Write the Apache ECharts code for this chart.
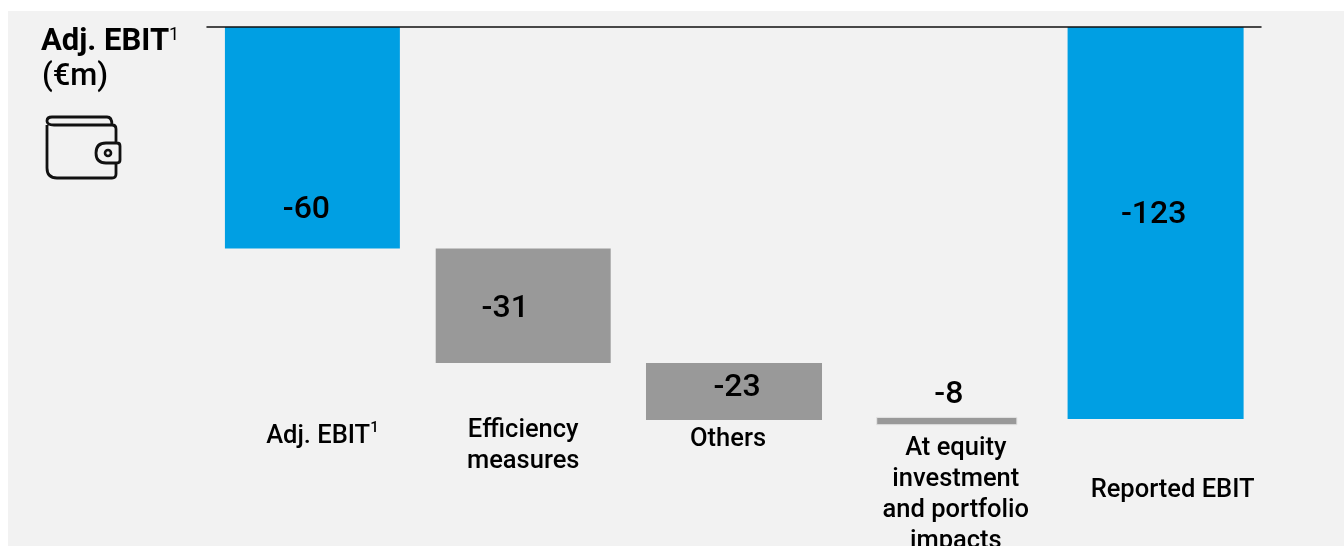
<!DOCTYPE html>
<html><head><meta charset="utf-8">
<style>html,body{margin:0;padding:0;background:#fff}#c{width:1344px;height:546px}</style>
<script src="https://cdn.jsdelivr.net/npm/echarts@6/dist/echarts.min.js"></script>
</head><body><div id="c"></div>
<script>
// Printed labels of the chart
const categories = ['Adj. EBIT{sup|1}', 'Efficiency\nmeasures', 'Others', 'At equity\ninvestment\nand portfolio\nimpacts', 'Reported EBIT'];
const valueLabels = ['-60', '-31', '-23', '-8', '-123'];
// Drawn extents of the bars (the source is not drawn strictly to scale)
const barStart = [0, -69.5, -105.4, -122.5, 0];
const barEnd = [-69.5, -105.4, -123.3, -124.8, -123];
const barKind = ['total', 'step', 'step', 'step', 'total'];

const FONT = 'Roboto';
const colors = { total: '#009FE3', step: '#999999' };
const widthRatio = [0.83, 0.83, 0.835, 0.665, 0.835];
const barShift = [0, 0, 0, 2, 0];
const valueOffset = [[-6, -38], [-18, -54], [3, -32], [4, -30], [-2, -204]];
const labelOffset = [[10, 188], [0, 83], [-6, 20], [11, 70], [17, 72]];
const walletPath = 'M47 125V168Q47 178 57 178H112Q116 178 116 174V163M116 143V129Q116 125 112 125H54Q47 125 47 121Q47 117 52 117H107Q112 117 112 125M120 146Q120 143 117 143H106Q96 143 96 153Q96 163 106 163H117Q120 163 120 160Z';

const chart = echarts.init(document.getElementById('c'));
chart.setOption({
  animation: false,
  backgroundColor: '#ffffff',
  grid: { left: 207, right: 83, top: 27, height: 414.3 },
  xAxis: {
    type: 'category', position: 'top', data: categories,
    axisLine: { show: true, onZero: false, lineStyle: { color: '#111', width: 1.5 } },
    axisTick: { show: false }, axisLabel: { show: false }, splitLine: { show: false }, z: 10
  },
  yAxis: { type: 'value', min: -130, max: 0, show: false },
  series: [{
    type: 'custom', clip: false,
    data: barStart.map((s, i) => [i, s, barEnd[i]]),
    encode: { x: 0, y: [1, 2] },
    renderItem(params, api) {
      const i = api.value(0);
      const top = api.coord([i, api.value(1)]);
      const bot = api.coord([i, api.value(2)]);
      const w = api.size([1, 0])[0] * widthRatio[i];
      const cx = top[0];
      const thin = bot[1] - top[1] < 12;
      return {
        type: 'group',
        children: [
          { type: 'rect',
            shape: { x: cx + barShift[i] - w / 2, y: top[1], width: w, height: bot[1] - top[1] },
            style: { fill: colors[barKind[i]], stroke: thin ? '#e4e4e4' : null, lineWidth: thin ? 1 : 0 } },
          { type: 'text',
            style: { x: cx + valueOffset[i][0], y: bot[1] + valueOffset[i][1], text: valueLabels[i],
              fill: '#000', font: '500 32px ' + FONT, align: 'center', verticalAlign: 'middle' } },
          { type: 'text',
            style: { x: cx + labelOffset[i][0], y: bot[1] + labelOffset[i][1], text: categories[i],
              fill: '#000', font: '500 25.5px ' + FONT, lineHeight: 31, align: 'center', verticalAlign: 'middle',
              rich: { sup: { font: '500 15px ' + FONT, verticalAlign: 'top', lineHeight: 31, fill: '#000' } } } }
        ]
      };
    }
  }, {
    type: 'custom', clip: false, silent: true, coordinateSystem: 'none',
    data: [[0]],
    renderItem() {
      return {
        type: 'group',
        children: [
          { type: 'path', shape: { pathData: walletPath }, style: { fill: null, stroke: '#111', lineWidth: 2.8 } },
          { type: 'circle', shape: { cx: 108, cy: 153, r: 3 }, style: { fill: null, stroke: '#111', lineWidth: 2.6 } }
        ]
      };
    }
  }],
  graphic: [
    { type: 'rect', z: -10, silent: true, shape: { x: 8, y: 11, width: 1336, height: 535 }, style: { fill: '#f2f2f2' } },
    { type: 'text', z: 20, style: { x: 41, y: 42, text: 'Adj. EBIT{sup|1}', fill: '#000', font: '700 31px ' + FONT,
        verticalAlign: 'middle', rich: { sup: { font: '400 18px ' + FONT, verticalAlign: 'top', fill: '#000', lineHeight: 32 } } } },
    { type: 'text', z: 20, style: { x: 42, y: 77, text: '(€m)', fill: '#000', font: '500 31px ' + FONT, verticalAlign: 'middle' } }
  ]
});
</script></body></html>
